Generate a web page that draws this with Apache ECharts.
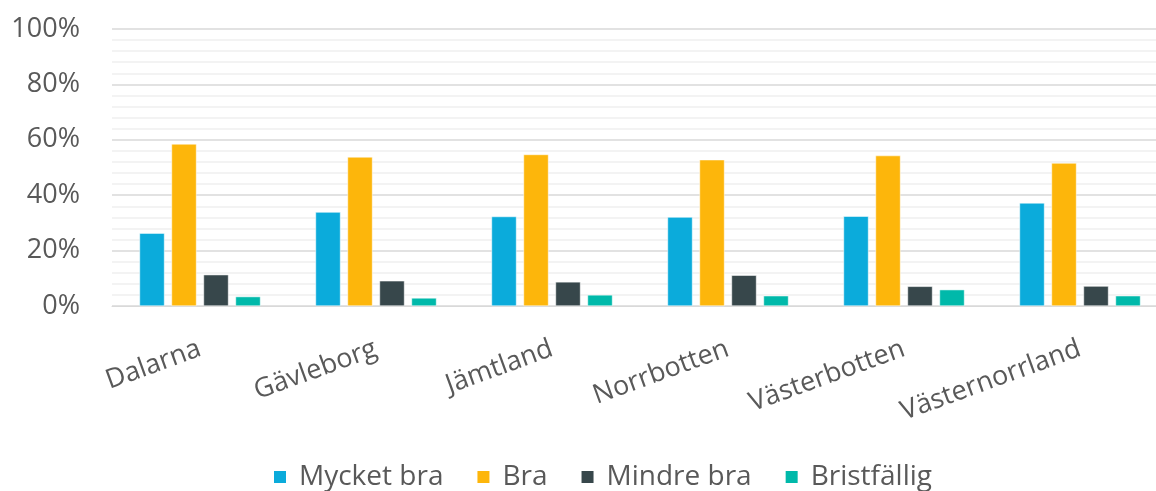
<!DOCTYPE html>
<html>
<head>
<meta charset="utf-8">
<script src="https://cdn.jsdelivr.net/npm/echarts@6/dist/echarts.min.js"></script>
<style>
  html, body { margin: 0; padding: 0; background: #fff; }
  #chart { width: 1156px; height: 491px; }
</style>
</head>
<body>
<div id="chart"></div>
<script>
const categories = ["Dalarna", "Gävleborg", "Jämtland", "Norrbotten", "Västerbotten", "Västernorrland"];
const seriesNames = ["Mycket bra", "Bra", "Mindre bra", "Bristfällig"];
const mycketBra = [26.3, 33.9, 32.3, 32.1, 32.4, 37.2];
const bra = [58.5, 53.8, 54.7, 52.8, 54.3, 51.6];
const mindreBra = [11.3, 9.1, 8.7, 11.1, 7.1, 7.2];
const bristfallig = [3.4, 2.9, 4.0, 3.7, 5.9, 3.7];
const yTicks = [0, 20, 40, 60, 80, 100];

const colors = ["#0BABDB", "#FDB60B", "#37474B", "#00B9AA"];
const values = [mycketBra, bra, mindreBra, bristfallig];
const font = "'Open Sans', sans-serif";

let myChart = echarts.init(document.getElementById("chart"));
myChart.setOption({
  animation: false,
  textStyle: { fontFamily: font },
  // plot area runs past the right edge (the original picture is cropped there)
  grid: {
    left: 112,
    right: -12,
    top: 29,
    bottom: 185,
    outerBoundsMode: "none"
  },
  legend: {
    bottom: -5,
    left: 267,
    itemWidth: 14,
    itemHeight: 14,
    itemGap: 32,
    icon: "rect",
    textStyle: { color: "#595959", fontSize: 28, fontFamily: font, padding: [0, 0, 0, 7] },
    data: seriesNames
  },
  xAxis: {
    type: "category",
    data: categories,
    axisLine: { lineStyle: { color: "#D9D9D9", width: 1 } },
    axisTick: { show: false },
    axisLabel: {
      rotate: 20,
      margin: 42,
      color: "#595959",
      fontSize: 27,
      fontFamily: font
    }
  },
  yAxis: {
    type: "value",
    min: yTicks[0],
    max: yTicks[yTicks.length - 1],
    interval: 20,
    axisLine: { show: false },
    axisTick: { show: false },
    axisLabel: {
      formatter: "{value}%",
      margin: 32,
      color: "#595959",
      fontSize: 27,
      fontFamily: font
    },
    splitLine: { lineStyle: { color: "#D9D9D9", width: 1.5 } },
    minorTick: { show: false, splitNumber: 5 },
    minorSplitLine: { show: true, lineStyle: { color: "#EFEFEF", width: 1.5 } }
  },
  series: seriesNames.map((name, i) => ({
    name: name,
    type: "bar",
    data: values[i],
    barWidth: 25,
    barGap: "28%",
    itemStyle: {
      color: colors[i],
      borderColor: "#ffffff",
      borderWidth: 0.5
    }
  }))
});
</script>
</body>
</html>
